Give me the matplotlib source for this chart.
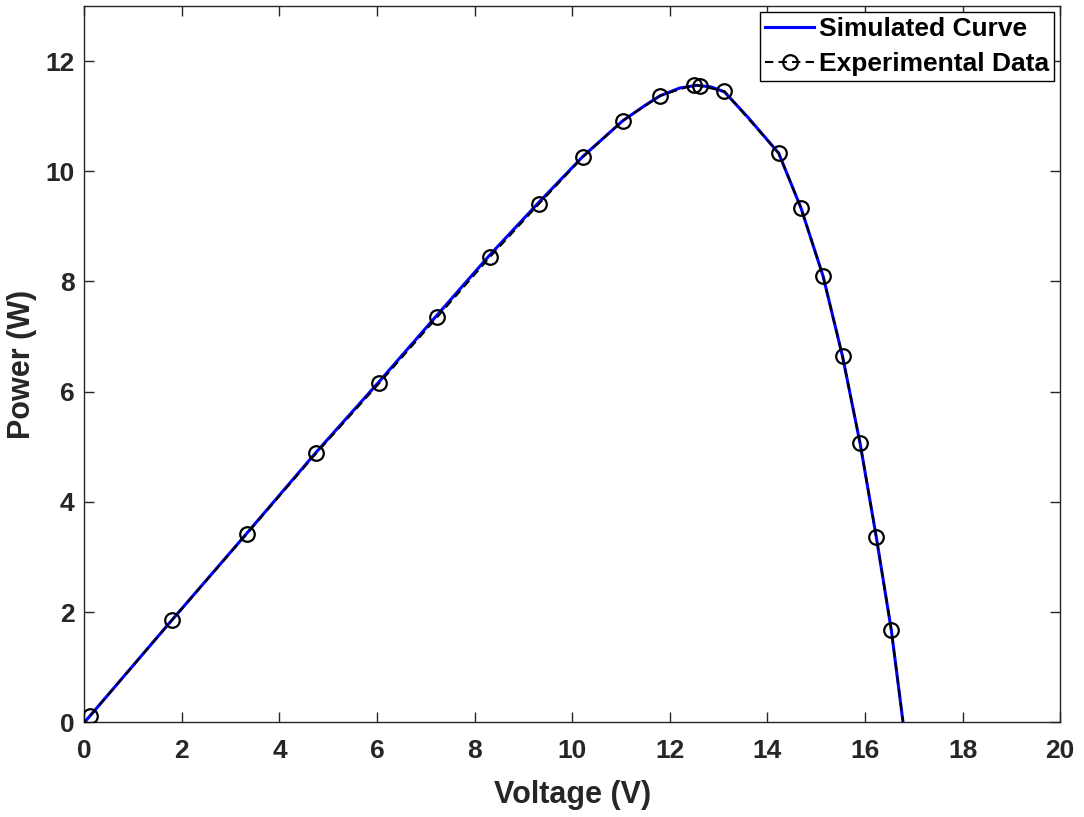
import matplotlib
matplotlib.use("Agg")
import matplotlib.pyplot as plt

# Experimental data (measured points)
exp_voltage = [0.12, 1.80, 3.33, 4.75, 6.04, 7.23, 8.31, 9.32, 10.22, 11.04,
               11.80, 12.49, 12.62, 13.12, 14.23, 14.69, 15.14, 15.54, 15.90,
               16.23, 16.54]
exp_power = [0.12, 1.86, 3.42, 4.88, 6.15, 7.35, 8.44, 9.41, 10.26, 10.92,
             11.37, 11.57, 11.55, 11.45, 10.33, 9.33, 8.10, 6.64, 5.06,
             3.37, 1.67]
# open-circuit end of the measured trace (no marker)
exp_voc = 16.78

# Simulated curve
sim_voltage = [0.0, 0.12, 1.80, 3.33, 4.75, 6.04, 7.23, 8.31, 9.32, 10.22,
               11.04, 11.50, 11.80, 12.20, 12.55, 12.85, 13.12, 13.60, 14.23,
               14.69, 15.14, 15.54, 15.90, 16.23, 16.54, 16.78]
sim_power = [0.0, 0.12, 1.86, 3.43, 4.90, 6.18, 7.39, 8.48, 9.44, 10.27,
             10.92, 11.20, 11.37, 11.51, 11.56, 11.53, 11.44, 10.98, 10.33,
             9.33, 8.10, 6.64, 5.06, 3.37, 1.67, 0.0]

xticks = [0, 2, 4, 6, 8, 10, 12, 14, 16, 18, 20]
yticks = [0, 2, 4, 6, 8, 10, 12]

plt.rcParams['font.family'] = ['Liberation Sans', 'DejaVu Sans']
plt.rcParams['font.weight'] = 'bold'

fig = plt.figure(figsize=(10.84, 8.17), dpi=100)
ax = fig.add_axes([0.0778, 0.1159, 0.9002, 0.8768])

ax.plot(sim_voltage, sim_power, color='#0000ff', lw=2.2, label='Simulated Curve', zorder=2)
ev = exp_voltage + [exp_voc]
ep = exp_power + [0.0]
ax.plot(ev, ep, color='black', lw=1.5, linestyle=(0, (4, 2.5)), marker='o',
        markersize=10.5, markerfacecolor='none', markeredgecolor='black',
        markeredgewidth=1.6, markevery=list(range(len(exp_voltage))),
        label='Experimental Data', zorder=3)

ax.set_xlim(0, 20)
ax.set_ylim(0, 13)
ax.set_xticks(xticks)
ax.set_yticks(yticks)
ax.tick_params(direction='in', length=7, width=1.0, color='#262626',
               labelsize=19, labelcolor='#262626', top=True, right=True)
ax.tick_params(axis='x', pad=12)
ax.tick_params(axis='y', pad=7)
for lab in ax.get_xticklabels() + ax.get_yticklabels():
    lab.set_fontweight('bold')
for s in ax.spines.values():
    s.set_linewidth(1.0)
    s.set_color('#262626')

ax.set_xlabel('Voltage (V)', fontsize=22, fontweight='bold', color='#262626', labelpad=12)
ax.set_ylabel('Power (W)', fontsize=22, fontweight='bold', color='#262626', labelpad=6)

leg = ax.legend(loc='upper right', fontsize=19, frameon=True, fancybox=False,
                edgecolor='black', framealpha=1, borderpad=0.2, borderaxespad=0.22,
                handlelength=1.85, handletextpad=0.18, labelspacing=0.42)
leg.get_frame().set_linewidth(1.0)
for t in leg.get_texts():
    t.set_fontweight('bold')
    t.set_color('black')

fig.savefig('out.png', dpi=100)
